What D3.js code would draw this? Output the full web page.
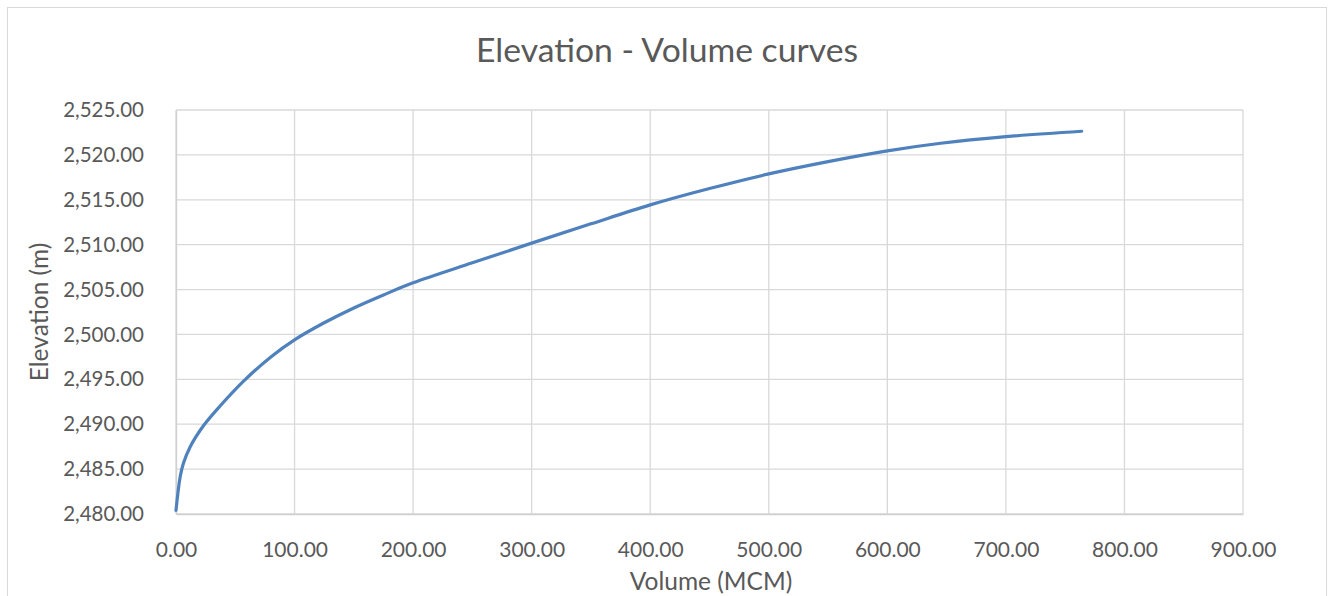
<!DOCTYPE html>
<html>
<head>
<meta charset="utf-8">
<script src="https://cdn.jsdelivr.net/npm/d3@7"></script>
<style>
  body { margin: 0; background: #fff; }
  text { font-family: Lato, 'Open Sans', sans-serif; fill: #595959; }
</style>
</head>
<body>
<div id="chart"></div>
<script>
'use strict';

// data
const volume = [0, 3.6, 6.4, 12, 23, 37, 57, 80, 100, 125, 150, 175, 200, 250, 300, 350, 400, 450, 500, 550, 600, 645, 700, 764];
const elevation = [2480.4, 2484.2, 2485.7, 2487.5, 2489.8, 2492.0, 2494.8, 2497.5, 2499.4, 2501.3, 2502.95, 2504.4, 2505.75, 2507.98, 2510.17, 2512.32, 2514.43, 2516.25, 2517.88, 2519.25, 2520.45, 2521.3, 2522.03, 2522.63];
const xTicks = [0, 100, 200, 300, 400, 500, 600, 700, 800, 900];
const yTicks = [2480, 2485, 2490, 2495, 2500, 2505, 2510, 2515, 2520, 2525];

const W = 1329, H = 596;
const plot = { left: 176, right: 1243, top: 110, bottom: 514 };

const svg = d3.select('#chart').append('svg')
	.attr('width', W)
	.attr('height', H);

// chart frame
svg.append('rect')
	.attr('x', 7.5).attr('y', 7.5)
	.attr('width', 1319).attr('height', 620)
	.attr('fill', '#fff')
	.attr('stroke', '#d9d9d9');

const x = d3.scaleLinear().domain([0, 900]).range([plot.left, plot.right]);
const y = d3.scaleLinear().domain([2480, 2525]).range([plot.bottom, plot.top]);

// gridlines
svg.append('g').selectAll('line').data(xTicks).enter().append('line')
	.attr('x1', d => x(d)).attr('x2', d => x(d))
	.attr('y1', plot.top).attr('y2', plot.bottom)
	.attr('stroke', '#d9d9d9').attr('stroke-width', 1.3);
svg.append('g').selectAll('line').data(yTicks).enter().append('line')
	.attr('x1', plot.left).attr('x2', plot.right)
	.attr('y1', d => y(d)).attr('y2', d => y(d))
	.attr('stroke', '#d9d9d9').attr('stroke-width', 1.3);

// axes
const xAxis = d3.axisBottom(x).tickValues(xTicks).tickFormat(d3.format('.2f')).tickSize(0).tickPadding(28);
const yAxis = d3.axisLeft(y).tickValues(yTicks).tickFormat(d3.format(',.2f')).tickSize(0).tickPadding(32);

const gx = svg.append('g').attr('transform', 'translate(0,' + plot.bottom + ')').call(xAxis);
const gy = svg.append('g').attr('transform', 'translate(' + plot.left + ',0)').call(yAxis);
gx.selectAll('text').style('font-size', '21px');
gy.selectAll('text').style('font-size', '20.5px');
[gx, gy].forEach(g => {
	g.select('.domain').attr('stroke', '#d0d0d0').attr('stroke-width', 1.3);
	g.selectAll('text').style('font-family', 'Lato, sans-serif').attr('fill', '#595959');
});

// the curve
const pts = volume.map((v, i) => [v, elevation[i]]);
svg.append('path')
	.datum(pts)
	.attr('fill', 'none')
	.attr('stroke', '#4f81bd')
	.attr('stroke-width', 3.2)
	.attr('stroke-linecap', 'round')
	.attr('d', d3.line().x(d => x(d[0])).y(d => y(d[1])).curve(d3.curveCatmullRom.alpha(0.5)));

// title and axis labels
svg.append('text')
	.attr('x', 667).attr('y', 62)
	.attr('text-anchor', 'middle')
	.style('font-size', '33.7px')
	.text('Elevation - Volume curves');

svg.append('text')
	.attr('transform', 'translate(48,' + ((plot.top + plot.bottom) / 2) + ') rotate(-90)')
	.attr('text-anchor', 'middle')
	.style('font-size', '24.5px')
	.text('Elevation (m)');

svg.append('text')
	.attr('x', 711).attr('y', 590)
	.attr('text-anchor', 'middle')
	.style('font-size', '24.5px')
	.text('Volume (MCM)');
</script>
</body>
</html>
